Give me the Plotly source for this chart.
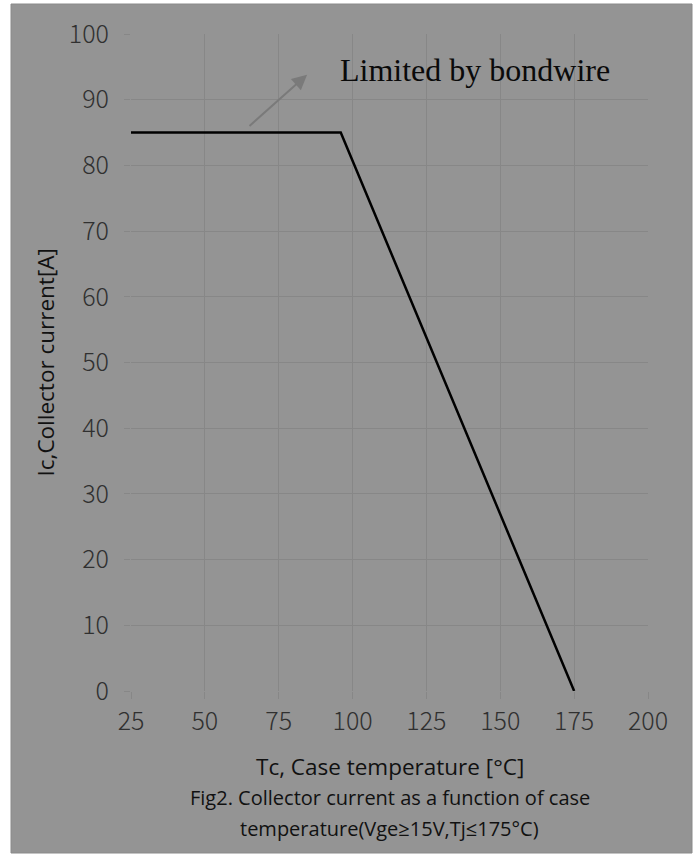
import plotly.graph_objects as go

# Data
case_temp = [25, 96, 175]          # Tc [°C]
collector_current = [85, 85, 0]   # Ic [A]
x_ticks = [25, 50, 75, 100, 125, 150, 175, 200]
y_ticks = [0, 10, 20, 30, 40, 50, 60, 70, 80, 90, 100]

BG = "#949494"
GRID = "#878787"
TICKFONT = "Noto Sans CJK SC"
LABELFONT = "Open Sans"

fig = go.Figure()
fig.add_trace(go.Scatter(x=case_temp, y=collector_current, mode="lines",
                         line=dict(color="#000000", width=2.5),
                         showlegend=False, hoverinfo="skip"))

W, H = 698, 859
L, R, T, B = 131, 648, 34, 691
pw, ph = R - L, B - T

def px(xpix):
    return (xpix - L) / pw

def py(ypix):
    return (B - ypix) / ph

tickfont = dict(family=TICKFONT, size=25, color="#303030", weight=300)

fig.update_layout(
    width=W, height=H,
    margin=dict(l=L, r=W - R, t=T, b=H - B),
    paper_bgcolor="white",
    plot_bgcolor="rgba(0,0,0,0)",
    showlegend=False,
    xaxis=dict(range=[25, 200], tickvals=x_ticks, showgrid=True, gridcolor=GRID,
               gridwidth=1, zeroline=False, showline=False, ticks="outside",
               ticklen=7, tickcolor=GRID, tickfont=tickfont,
               ticklabelstandoff=1),
    yaxis=dict(range=[0, 100], tickvals=y_ticks, showgrid=True, gridcolor=GRID,
               gridwidth=1, zeroline=False, showline=False, ticks="outside",
               ticklen=6, tickcolor=GRID, tickfont=tickfont,
               ticklabelstandoff=10),
    shapes=[dict(type="rect", xref="paper", yref="paper",
                 x0=px(11), x1=px(692), y0=py(853), y1=py(4),
                 fillcolor=BG, line=dict(color="#8a8a8a", width=1), layer="below")],
)

annos = [
    dict(x=px(45), y=0.5, xref="paper", yref="paper", text="Ic,Collector current[A]",
         textangle=-90, showarrow=False, xanchor="center", yanchor="middle",
         font=dict(family=LABELFONT, size=22.5, color="#111111")),
    dict(x=0.5, y=py(766), xref="paper", yref="paper", text="Tc, Case temperature [°C]",
         showarrow=False, xanchor="center", yanchor="middle",
         font=dict(family=LABELFONT, size=22.5, color="#111111")),
    dict(x=0.5, y=py(797), xref="paper", yref="paper",
         text="Fig2. Collector current as a function of case",
         showarrow=False, xanchor="center", yanchor="middle",
         font=dict(family=LABELFONT, size=20, color="#111111")),
    dict(x=0.5, y=py(828), xref="paper", yref="paper",
         text="temperature(Vge≥15V,Tj≤175°C)",
         showarrow=False, xanchor="center", yanchor="middle",
         font=dict(family=LABELFONT, size=20, color="#111111")),
    dict(x=141.4, y=94.5, xref="x", yref="y", text="Limited by bondwire",
         showarrow=False, xanchor="center", yanchor="middle",
         font=dict(family="Liberation Serif", size=32, color="#0a0a0a")),
    dict(x=84.6, y=93.8, xref="x", yref="y", ax=64.6, ay=85.8, axref="x", ayref="y",
         text="", showarrow=True, arrowhead=2, arrowsize=1.5, arrowwidth=2,
         arrowcolor="#7a7a7a"),
]
fig.update_layout(annotations=annos)

fig.write_html("out.html", config={"displayModeBar": False},
               post_script="document.body.style.margin='0px';")
